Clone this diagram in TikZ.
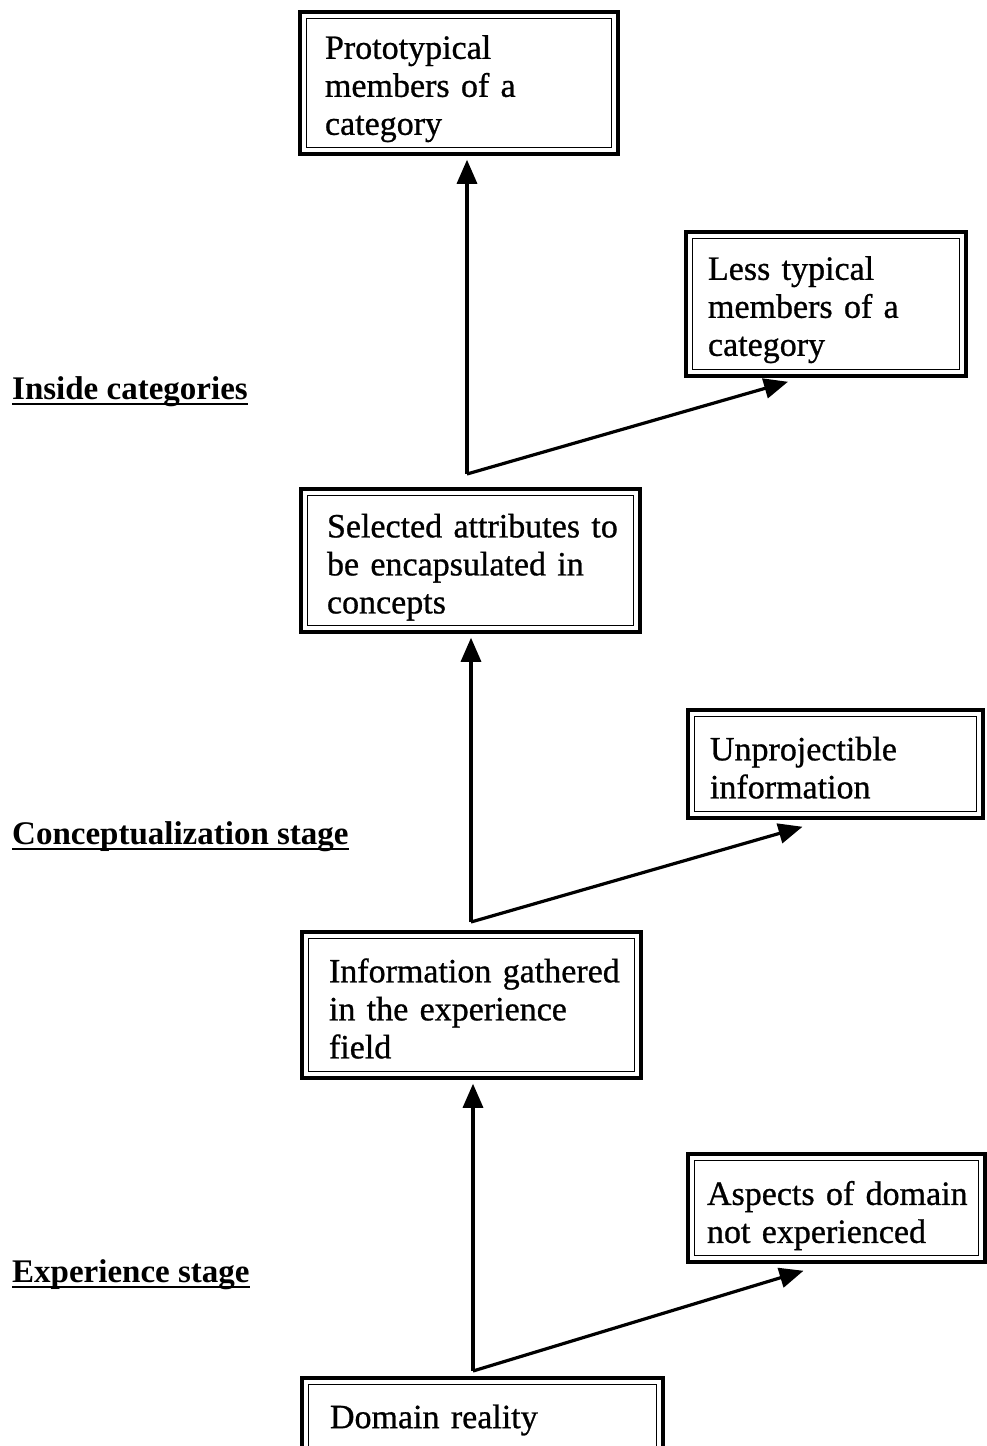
\documentclass[tikz,border=0pt]{standalone}
\usepackage{fontspec}
\setmainfont{Liberation Serif}
\newfontfamily\boxfont[FakeBold=0.8]{Liberation Serif}
\usetikzlibrary{arrows.meta,calc}
% taller first line: moves the text of a box down a little
\newcommand{\firstlinestrut}[1]{\rule{0pt}{#1}}
\tikzset{
  box/.style={draw, line width=3.5pt, rectangle, inner ysep=0pt, align=left,
    font=\boxfont\fontsize{34}{38}\selectfont},
  innerframe/.style={line width=1.4pt},
  stagelabel/.style={anchor=base west, inner sep=0pt,
    font=\fontsize{33}{38}\selectfont\bfseries},
  underrule/.style={line width=2.8pt},
  link/.style={line width=3.2pt, line join=miter,
    -{Triangle[length=24pt,width=20pt]}}
}
\begin{document}
\begin{tikzpicture}[x=1pt,y=-1pt]
\useasboundingbox (0,0) rectangle (987,1446);

% boxes
\node[box, minimum width=318pt, minimum height=142pt, text width=268pt, inner xsep=25pt]
  (proto) at (459,83) {\firstlinestrut{35pt}\mbox{Prototypical}\\\mbox{members of a}\\\mbox{category}};
\node[box, minimum width=280pt, minimum height=144pt, text width=236pt, inner xsep=22pt]
  (less) at (826,304) {\firstlinestrut{35pt}\mbox{Less typical}\\\mbox{members of a}\\\mbox{category}};
\node[box, minimum width=339pt, minimum height=143pt, text width=287pt, inner xsep=26pt]
  (sel) at (470.5,560.5) {\firstlinestrut{37pt}\mbox{Selected attributes to}\\\mbox{be encapsulated in}\\\mbox{concepts}};
\node[box, minimum width=295pt, minimum height=108pt, text width=251pt, inner xsep=22pt]
  (unproj) at (835.5,764) {\firstlinestrut{31pt}\mbox{Unprojectible}\\\mbox{information}};
\node[box, minimum width=339pt, minimum height=146pt, text width=285pt, inner xsep=27pt]
  (info) at (471.5,1005) {\firstlinestrut{31pt}\mbox{Information gathered}\\\mbox{in the experience}\\\mbox{field}};
\node[box, minimum width=297pt, minimum height=108pt, text width=259pt, inner xsep=19pt]
  (aspects) at (836.5,1208) {\firstlinestrut{39pt}\mbox{Aspects of domain}\\\mbox{not experienced}};
\node[box, minimum width=361pt, minimum height=84pt, text width=305pt, inner xsep=28pt]
  (domain) at (482.5,1420) {\mbox{Domain reality}};

% thin inner frame of each double box
\foreach \n in {proto,less,sel,unproj,info,aspects,domain}
  \draw[innerframe] ($(\n.north west)+(8,8)$) rectangle ($(\n.south east)+(-8,-8)$);

% stage labels
\node[stagelabel] (lab1) at (12,399) {Inside categories};
\node[stagelabel] (lab2) at (12,844) {Conceptualization stage};
\node[stagelabel] (lab3) at (12,1282) {Experience stage};
\foreach \n in {lab1,lab2,lab3}
  \draw[underrule] ($(\n.base west)+(0,5)$) -- ($(\n.base east)+(0,5)$);

% branch points
\coordinate (b1) at (467,474);
\coordinate (b2) at (471,922);
\coordinate (b3) at (473,1371);

% connectors
\draw[link] (b1) -- ($(b1 |- proto.south)+(0,4)$);
\draw[link] (b1) -- ($(less.south)+(-38,4)$);
\draw[link] (b2) -- ($(b2 |- sel.south)+(0,4)$);
\draw[link] (b2) -- ($(unproj.south)+(-33,7)$);
\draw[link] (b3) -- ($(b3 |- info.south)+(0,4)$);
\draw[link] (b3) -- ($(aspects.south)+(-33,7)$);
\end{tikzpicture}
\end{document}
